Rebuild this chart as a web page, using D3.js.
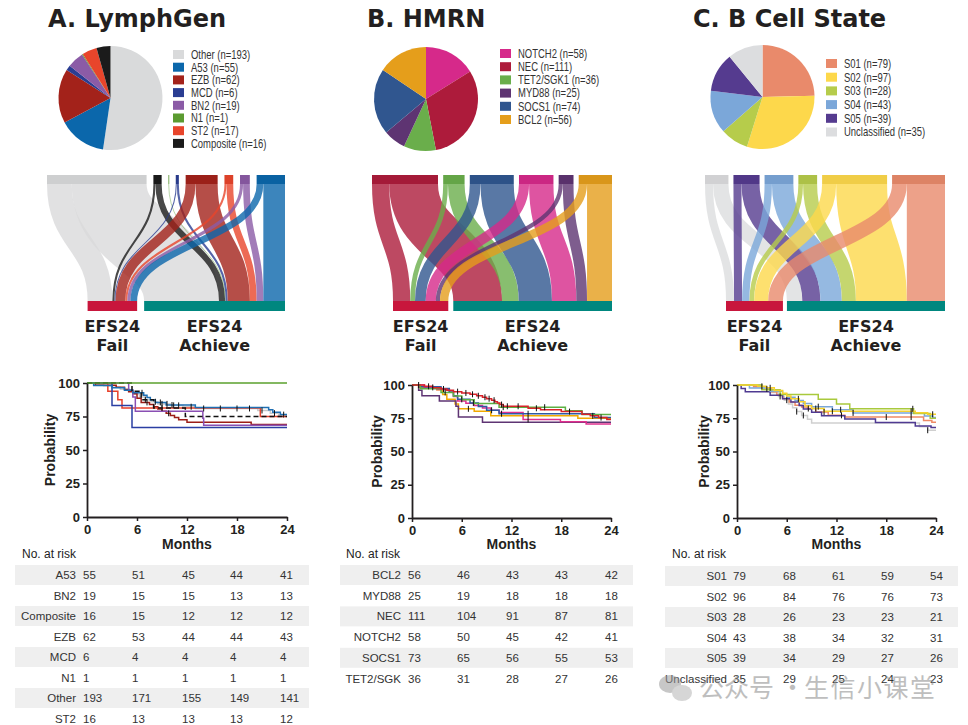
<!DOCTYPE html>
<html><head><meta charset="utf-8">
<script src="https://cdn.jsdelivr.net/npm/d3@7"></script>
<style>body{margin:0;background:#fff}svg{display:block}</style>
</head><body>
<svg id="c" width="968" height="725"></svg>
<script>
// ================= DATA =================
// Panel A: LymphGen
const lgCats = ["Other","A53","EZB","MCD","BN2","N1","ST2","Composite"];
const lgCounts = [193,55,62,6,19,1,17,16];
const lgColors = ["#d9dadb","#0b67ab","#a3221a","#2a3d92","#8b5ba6","#5b9b30","#e8452b","#1b1b1b"];
const lgSankeyOrder = ["Other","Composite","N1","MCD","EZB","ST2","BN2","A53"];
const lgFail = [48,13,19,2,6,0,4,4];
const lgAchieve = [145,42,43,4,13,1,13,12];
const lgKmColors = ["#c9c9c9","#1f6fb2","#9b1d17","#2b3fa3","#8a4fb3","#5aa02c","#e8402a","#111111"];
const lgKmSteps = [
  [[0,100],[1,99],[2,97.9],[3,96.9],[4,95.3],[5,93.8],[5.7,91.7],[6.3,89.6],[7,87.5],[7.7,86],[8.5,84.4],[10,83.3],[11.5,82.3],[13,81],[20.5,79.5],[22,77.5],[23,75.6]],
  [[0,100],[0.8,98.2],[3,96.4],[4.5,94.5],[5.5,92.7],[6.8,90.9],[7.2,89.1],[7.6,87.3],[8.2,85.5],[9.5,83.6],[13,81.8],[21.8,80],[22.3,78.2],[23.2,76.4]],
  [[0,100],[1,98.4],[3.5,96.8],[4.5,95.2],[5,93.5],[5.5,91.9],[6,88.7],[6.5,85.5],[7.5,83.9],[8,82.2],[8.5,80.6],[9,79],[9.5,77.4],[10,75.8],[10.5,74.2],[11,72.6],[12,70.8],[19.7,69]],
  [[0,100],[3,83.3],[5.4,66.7]],
  [[0,100],[5,94.7],[5.5,89.5],[5.8,78.9],[13.9,73.7],[14,68.4]],
  [[0,100]],
  [[0,100],[2.5,93.8],[3.7,87.5],[4.2,81.3],[20.8,75]],
  [[0,100],[5.4,93.8],[6.5,87.5],[8,81.3],[11.8,75]]
];
const lgKmCensor = [
  [8.2,9,9.6,10.4,11,12.5,14,16,18,19.5,21,22.5],
  [6.6,8.8,10.2,23.6],
  [7.2,9.8],
  [],[],[],[],[7,9]
];
const lgRiskLabels = ["A53","BN2","Composite","EZB","MCD","N1","Other","ST2"];
const lgRisk = [[55,51,45,44,41],[19,15,15,13,13],[16,15,12,12,12],[62,53,44,44,43],[6,4,4,4,4],[1,1,1,1,1],[193,171,155,149,141],[16,13,13,13,12]];

// Panel B: HMRN
const hmCats = ["NOTCH2","NEC","TET2/SGK1","MYD88","SOCS1","BCL2"];
const hmCounts = [58,111,36,25,74,56];
const hmColors = ["#d6298a","#ad1b3b","#6aae4b","#5e3472","#30568f","#e59e1b"];
const hmSankeyOrder = ["NEC","TET2/SGK1","SOCS1","NOTCH2","MYD88","BCL2"];
const hmFail = [17,29,8,7,18,14];
const hmAchieve = [41,82,28,18,56,42];
const hmKmColors = ["#e0308e","#d8232a","#5db043","#5e3473","#2f5aa3","#f2a900"];
const hmKmSteps = [
  [[0,100],[1.5,98.3],[3,96.6],[4.5,94.8],[5,91.4],[5.5,87.9],[6.5,86.2],[7.5,84.5],[8.5,82.8],[9.5,81],[10.5,79.3],[13.4,74.1],[17.9,72.4],[21,70.7]],
  [[0,100],[1.5,99],[2.5,98],[3.5,97],[4.2,96],[5,95],[6,94],[7,93],[7.8,91.9],[8.5,90.8],[9,89.7],[9.6,88.6],[10,87.5],[10.3,86.4],[10.6,85.3],[11,84],[14,82.5],[15.5,81.4],[18,80],[20.5,78],[21.5,76.8],[22.5,75.5],[23.5,74]],
  [[0,100],[1,97.2],[3.5,94.4],[5,91.7],[6,88.9],[7.5,86.1],[10.5,83.3],[18.5,80.6],[20.5,77.8]],
  [[0,100],[0.8,96],[1.2,92],[3.3,88],[5.3,84],[5.6,76],[8.5,72]],
  [[0,100],[1,98.6],[3.5,97.3],[4.5,94.6],[5,91.9],[5.5,89.2],[7,86.5],[8,83.8],[9,81.1],[10.5,78.4],[22,75.6]],
  [[0,100],[0.8,98.2],[3,96.4],[3.7,92.9],[4.2,89.3],[5.2,85.7],[5.6,82.1],[7.5,80.3],[9.5,76.8],[20,75]]
];
const hmKmCensor = [
  [9.6,14],[0.8,2,3.8,5.5,6.5,7.3,8,8.8,9.3,9.9,10.8,11.5,12.8,15,19,21.8,22.8],[4,11,16],[],[6,7.4,10.8,14],[2.5,6.8]
];
const hmRiskLabels = ["BCL2","MYD88","NEC","NOTCH2","SOCS1","TET2/SGK"];
const hmRisk = [[56,46,43,43,42],[25,19,18,18,18],[111,104,91,87,81],[58,50,45,42,41],[73,65,56,55,53],[36,31,28,27,26]];

// Panel C: B Cell State
const bcCats = ["S01","S02","S03","S04","S05","Unclassified"];
const bcCounts = [79,97,28,43,39,35];
const bcColors = ["#e98a6b","#fdd84b","#b6cc4b","#7ba7d9","#553b8f","#dcdddf"];
const bcSankeyOrder = ["Unclassified","S05","S04","S03","S02","S01"];
const bcFail = [22,21,7,11,12,12];
const bcAchieve = [57,76,21,32,27,23];
const bcKmColors = ["#ee8a66","#f6d22e","#a9c93c","#7aa6da","#4f3a92","#cfcfcf"];
const bcKmSteps = [
  [[0,100],[2,98.7],[3.5,97.5],[4.2,94.9],[4.8,92.4],[5.5,89.9],[6.3,87.3],[7,84.8],[7.8,83.5],[8.5,82.3],[9.5,79.7],[11,77.2],[13,75.9],[22.5,73.4],[23.5,72]],
  [[0,100],[2.5,99],[3.5,97.9],[4.5,95.8],[5.5,93.8],[6,91.7],[6.5,89.6],[7.5,87.5],[8.2,84.4],[9,82.3],[10.5,80.2],[21.5,79.2],[23,78]],
  [[0,100],[3,96.4],[5.2,92.9],[9.8,89.3],[12,85.7],[13.6,82.1],[21.3,78.6],[23.3,75]],
  [[0,100],[1.5,97.7],[4,95.3],[5.5,93],[6,90.7],[7,88.4],[8,86],[9,83.7],[11.5,81.4],[14,79],[22.6,76.7],[23.6,75.5]],
  [[0,100],[0.5,97.4],[1,94.9],[4,92.3],[5.5,89.7],[6.5,87.2],[7.5,84.6],[8,82],[9,79.5],[10.2,76.9],[13,74.4],[16.7,71.8],[21.5,69.2],[23.4,68]],
  [[0,100],[3,97.1],[4,94.3],[5,91.4],[5.7,88.6],[6.2,85.7],[6.7,82.9],[7.2,80],[7.8,77.1],[8.5,74.3],[9,71.4],[22,68.6],[23,66]]
];
const bcKmCensor = [[8.6,10.5,12.6,18,21],[3,4,7.4,9.5,11.5,21,23.6],[21.2],[9.8,12.5,14],[],[3.6,5.2,6,7.2,8,23]];
const bcRiskLabels = ["S01","S02","S03","S04","S05","Unclassified"];
const bcRisk = [[79,68,61,59,54],[96,84,76,76,73],[28,26,23,23,21],[43,38,34,32,31],[39,34,29,27,26],[35,29,25,24,23]];

const kmTicksX = [0,6,12,18,24];
const kmTicksY = [0,25,50,75,100];

// ================= DRAW =================
const svg = d3.select("#c");
const F = "'Liberation Sans', Arial, Helvetica, sans-serif";
const FB = "'DejaVu Sans', 'Liberation Sans', sans-serif";
const INK = "#231f20";

function title(x, text) {
  svg.append("text").attr("x", x).attr("y", 27).attr("font-family", FB)
    .attr("font-weight", "bold").attr("font-size", 24).attr("fill", INK).text(text);
}

function pie(cx, cy, r, counts, colors) {
  const arcs = d3.pie().sort(null)(counts);
  const arc = d3.arc().innerRadius(0).outerRadius(r);
  svg.append("g").attr("transform", `translate(${cx},${cy})`)
    .selectAll("path").data(arcs).join("path")
    .attr("d", arc).attr("fill", (d, i) => colors[i]);
}

function legend(x, y0, dy, cats, counts, colors) {
  const g = svg.append("g");
  cats.forEach((c, i) => {
    const y = y0 + i * dy;
    g.append("rect").attr("x", x).attr("y", y - 4.5).attr("width", 11).attr("height", 9).attr("fill", colors[i]);
    g.append("text").attr("transform", `translate(${x + 18},${y + 4.3}) scale(0.77,1)`).attr("font-family", F)
      .attr("font-size", 12.3).attr("fill", "#333").text(`${c} (n=${counts[i]})`);
  });
}

function sankey(cfg) {
  const {cats, counts, colors, order, fail, achieve, x0, x1, gapTop, gapBot} = cfg;
  const yTop = 175, barH = 9, yBot = 301, botH = 10;
  const idx = order.map(n => cats.indexOf(n));
  const total = d3.sum(counts);
  const k = (x1 - x0 - gapTop * (idx.length - 1)) / total;
  const w = d3.scaleLinear().domain([0, total]).range([0, total * k]);
  let cx = x0;
  const top = idx.map(i => { const n = {i, x: cx, w: w(counts[i])}; cx += n.w + gapTop; return n; });
  const failTot = d3.sum(fail);
  const achTot = d3.sum(achieve);
  const failX = x1 - w(total) - gapBot;
  const achX = failX + w(failTot) + gapBot;
  let fx = failX, ax = achX;
  const links = [];
  top.forEach(n => {
    const fw = w(fail[n.i]), aw = w(achieve[n.i]);
    if (fw > 0) links.push({c: colors[n.i], w: fw, s: n.x + fw / 2, t: fx + fw / 2});
    fx += fw;
    if (aw > 0) links.push({c: colors[n.i], w: aw, s: n.x + fw + aw / 2, t: ax + aw / 2});
    ax += aw;
  });
  const lk = d3.linkVertical().source(d => [d.s, yTop + barH]).target(d => [d.t, yBot]);
  const g = svg.append("g");
  g.selectAll("path").data(links).join("path")
    .attr("d", lk).attr("fill", "none").attr("stroke", d => d.c)
    .attr("stroke-width", d => d.w).attr("stroke-opacity", 0.8);
  g.selectAll("rect.top").data(top).join("rect").attr("class", "top")
    .attr("x", d => d.x).attr("y", yTop).attr("width", d => Math.max(d.w, 0.8)).attr("height", barH)
    .attr("fill", d => d3.color(colors[d.i]).darker(0.15));
  g.append("rect").attr("x", failX).attr("y", yBot).attr("width", w(failTot)).attr("height", botH).attr("fill", "#c8163c");
  g.append("rect").attr("x", achX).attr("y", yBot).attr("width", w(achTot)).attr("height", botH).attr("fill", "#00877f");
  const lab = (cxp, l2) => {
    g.append("text").attr("x", cxp).attr("y", 332).attr("text-anchor", "middle").attr("font-family", FB)
      .attr("font-weight", "bold").attr("font-size", 16).attr("fill", INK).text("EFS24");
    g.append("text").attr("x", cxp).attr("y", 351).attr("text-anchor", "middle").attr("font-family", FB)
      .attr("font-weight", "bold").attr("font-size", 16).attr("fill", INK).text(l2);
  };
  lab(failX + w(failTot) / 2, "Fail");
  lab(achX + w(achTot) / 2, "Achieve");
}

function km(cfg) {
  const {ax0, ax1, yTopPx, yBotPx, steps, colors, censor, dashed, drawOrder, ylabX} = cfg;
  const x = d3.scaleLinear().domain([0, 24]).range([ax0, ax1]);
  const y = d3.scaleLinear().domain([0, 100]).range([yBotPx, yTopPx]);
  const g = svg.append("g");
  const line = d3.line().x(d => x(d[0])).y(d => y(d[1])).curve(d3.curveStepAfter);
  drawOrder.forEach(i => {
    const pts = steps[i].concat([[24, steps[i][steps[i].length - 1][1]]]);
    g.append("path").attr("d", line(pts)).attr("fill", "none").attr("stroke", colors[i])
      .attr("stroke-width", 1.5).attr("stroke-dasharray", dashed === i ? "5,3" : null);
  });
  drawOrder.forEach(i => {
    censor[i].forEach(t => {
      let p = 100;
      steps[i].forEach(s => { if (s[0] <= t) p = s[1]; });
      g.append("line").attr("x1", x(t)).attr("x2", x(t)).attr("y1", y(p) - 3).attr("y2", y(p) + 3)
        .attr("stroke", "#111").attr("stroke-width", 1);
    });
  });
  const gy = g.append("g").attr("transform", `translate(${ax0},0)`)
    .call(d3.axisLeft(y).tickValues(kmTicksY).tickSize(4).tickSizeOuter(0).tickPadding(3));
  const gx = g.append("g").attr("transform", `translate(0,${yBotPx})`)
    .call(d3.axisBottom(x).tickValues(kmTicksX).tickSize(4).tickSizeOuter(0).tickPadding(4));
  [gy, gx].forEach(a => {
    a.select(".domain").attr("stroke", INK).attr("stroke-width", 1.8);
    a.selectAll(".tick line").attr("stroke", INK).attr("stroke-width", 1.5);
    a.selectAll("text").attr("font-family", F).attr("font-weight", "bold").attr("font-size", 13).attr("fill", INK);
  });
  g.append("text").attr("transform", `translate(${ylabX},${(yTopPx + yBotPx) / 2}) rotate(-90)`)
    .attr("text-anchor", "middle").attr("font-family", F).attr("font-weight", "bold")
    .attr("font-size", 14).attr("fill", INK).text("Probability");
  g.append("text").attr("x", (ax0 + ax1) / 2).attr("y", 549).attr("text-anchor", "middle")
    .attr("font-family", F).attr("font-weight", "bold").attr("font-size", 14).attr("fill", INK).text("Months");
}

function riskTable(cfg) {
  const {labels, rows, titleX, labelRight, cols, y0, dy, bx0, bx1} = cfg;
  const g = svg.append("g");
  g.append("text").attr("x", titleX).attr("y", 558).attr("font-family", F).attr("font-size", 12)
    .attr("fill", "#222").text("No. at risk");
  labels.forEach((l, i) => {
    const yc = y0 + i * dy;
    if (i % 2 === 0) g.append("rect").attr("x", bx0).attr("y", yc - 10).attr("width", bx1 - bx0).attr("height", 20).attr("fill", "#efefef");
    g.append("text").attr("x", labelRight).attr("y", yc + 4).attr("text-anchor", "end").attr("font-family", F)
      .attr("font-size", 11.5).attr("fill", "#333").text(l);
    rows[i].forEach((v, j) => {
      g.append("text").attr("x", cols[j]).attr("y", yc + 4).attr("font-family", F)
        .attr("font-size", 11.5).attr("fill", "#333").text(v);
    });
  });
}

// Titles
title(48, "A. LymphGen");
title(367, "B. HMRN");
title(693, "C. B Cell State");

// Pies + legends
pie(110.5, 98, 52, lgCounts, lgColors);
legend(173, 54.5, 12.7, lgCats, lgCounts, lgColors);
pie(426, 99, 52, hmCounts, hmColors);
legend(500, 53.5, 13.2, hmCats, hmCounts, hmColors);
pie(762.5, 97, 52, bcCounts, bcColors);
legend(826, 63.5, 13.7, bcCats, bcCounts, bcColors);

// Sankeys
sankey({cats: lgCats, counts: lgCounts, colors: lgColors, order: lgSankeyOrder, fail: lgFail, achieve: lgAchieve, x0: 47, x1: 285, gapTop: 6.8, gapBot: 7});
sankey({cats: hmCats, counts: hmCounts, colors: hmColors, order: hmSankeyOrder, fail: hmFail, achieve: hmAchieve, x0: 372, x1: 612, gapTop: 5.2, gapBot: 5});
sankey({cats: bcCats, counts: bcCounts, colors: bcColors, order: bcSankeyOrder, fail: bcFail, achieve: bcAchieve, x0: 705, x1: 945, gapTop: 5, gapBot: 4});

// KM plots
km({ax0: 87, ax1: 287, yTopPx: 383, yBotPx: 517, steps: lgKmSteps, colors: lgKmColors, censor: lgKmCensor, dashed: 7, drawOrder: [0,2,6,4,3,1,7,5], ylabX: 55});
km({ax0: 412, ax1: 611, yTopPx: 385, yBotPx: 518, steps: hmKmSteps, colors: hmKmColors, censor: hmKmCensor, dashed: -1, drawOrder: [5,3,0,4,2,1], ylabX: 382});
km({ax0: 737, ax1: 936, yTopPx: 385, yBotPx: 518, steps: bcKmSteps, colors: bcKmColors, censor: bcKmCensor, dashed: -1, drawOrder: [5,0,4,3,2,1], ylabX: 709});

// Risk tables
riskTable({labels: lgRiskLabels, rows: lgRisk, titleX: 22, labelRight: 76, cols: [83,132,182,230,280], y0: 575, dy: 20.5, bx0: 15, bx1: 309});
riskTable({labels: hmRiskLabels, rows: hmRisk, titleX: 346, labelRight: 401, cols: [408,457,506,555,605], y0: 575, dy: 20.7, bx0: 340, bx1: 633});
riskTable({labels: bcRiskLabels, rows: bcRisk, titleX: 672, labelRight: 727, cols: [733,783,832,881,930], y0: 576, dy: 20.5, bx0: 665, bx1: 958});

// Watermark
const wm = svg.append("g").attr("opacity", 0.55);
wm.append("ellipse").attr("cx", 670).attr("cy", 684).attr("rx", 11).attr("ry", 9).attr("fill", "#9a9a9a");
wm.append("ellipse").attr("cx", 682).attr("cy", 693).attr("rx", 10).attr("ry", 8).attr("fill", "#b5b5b5");
const CJK = "'Noto Sans CJK SC', sans-serif";
wm.append("text").attr("x", 699).attr("y", 697).attr("font-family", CJK).attr("font-size", 25).attr("fill", "#8a8a8a").text("公众号");
wm.append("text").attr("x", 780).attr("y", 697).attr("font-family", CJK).attr("font-size", 25).attr("fill", "#8a8a8a").text("·");
wm.append("text").attr("x", 804).attr("y", 697).attr("font-family", CJK).attr("font-size", 25).attr("letter-spacing", 1.5).attr("fill", "#8a8a8a").text("生信小课堂");
</script>
</body></html>
